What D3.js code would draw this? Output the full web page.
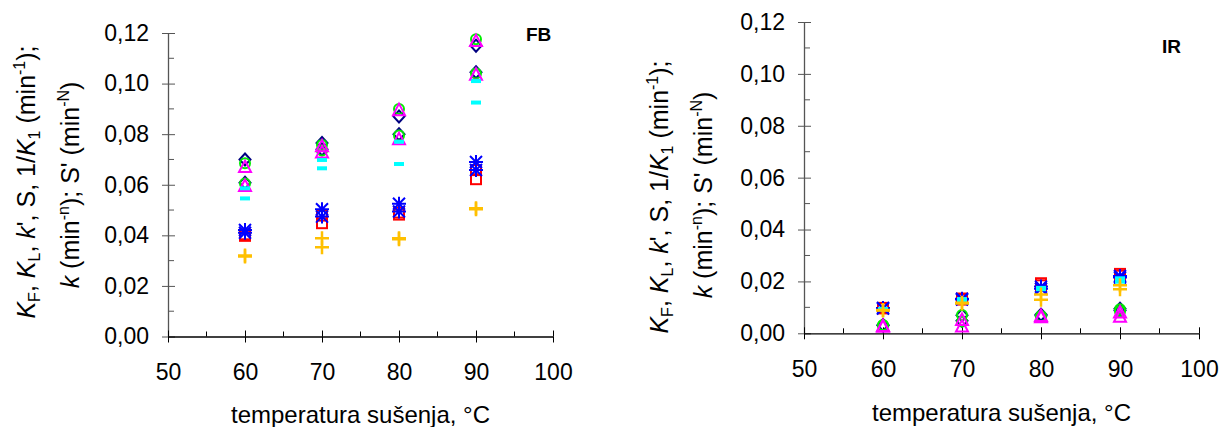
<!DOCTYPE html>
<html><head><meta charset="utf-8">
<script src="https://cdn.jsdelivr.net/npm/d3@7"></script>
<style>body{margin:0;background:#fff}text{font-family:"Liberation Sans",Arial,sans-serif}</style>
</head><body><svg id="c" width="1221" height="427"></svg>
<script>
const temps = [60, 70, 80, 90];
const xTicks = [50, 60, 70, 80, 90, 100];
const yTicks = [0, 0.02, 0.04, 0.06, 0.08, 0.10, 0.12];
const yTickLabels = ["0,00", "0,02", "0,04", "0,06", "0,08", "0,10", "0,12"];

// FB panel series
const fbDiamond1 = [0.0700, 0.0765, 0.0870, 0.1150];
const fbDiamond2 = [0.0608, 0.0740, 0.0800, 0.1045];
const fbCircle1 = [0.0685, 0.0757, 0.0900, 0.1175];
const fbCircle2 = [0.0605, 0.0735, 0.0795, 0.1040];
const fbTriangle1 = [0.0670, 0.0752, 0.0895, 0.1168];
const fbTriangle2 = [0.0595, 0.0728, 0.0780, 0.1035];
const fbSquare1 = [0.0404, 0.0478, 0.0490, 0.0658];
const fbSquare2 = [0.0398, 0.0448, 0.0482, 0.0622];
const fbStar1 = [0.0421, 0.0503, 0.0525, 0.0690];
const fbStar2 = [0.0410, 0.0474, 0.0494, 0.0658];
const fbDash1 = [0.0586, 0.0698, 0.0770, 0.1010];
const fbDash2 = [0.0546, 0.0665, 0.0682, 0.0925];
const fbPlus1 = [0.0320, 0.0388, 0.0388, 0.0507];
const fbPlus2 = [0.0316, 0.0353, 0.0385, 0.0503];

// IR panel series
const irDiamond1 = [0.0032, 0.0070, 0.0072, 0.0095];
const irDiamond2 = [0.0030, 0.0048, 0.0068, 0.0088];
const irCircle1 = [0.0032, 0.0071, 0.0067, 0.0093];
const irCircle2 = [0.0030, 0.0045, 0.0065, 0.0085];
const irTriangle1 = [0.0028, 0.0051, 0.0067, 0.0080];
const irTriangle2 = [0.0025, 0.0026, 0.0062, 0.0064];
const irSquare1 = [0.0098, 0.0134, 0.0193, 0.0229];
const irSquare2 = [0.0096, 0.0130, 0.0185, 0.0222];
const irStar1 = [0.0098, 0.0133, 0.0180, 0.0221];
const irStar2 = [0.0095, 0.0130, 0.0172, 0.0215];
const irDash1 = [0.0094, 0.0132, 0.0175, 0.0212];
const irDash2 = [0.0092, 0.0128, 0.0170, 0.0199];
const irPlus1 = [0.0090, 0.0118, 0.0150, 0.0185];
const irPlus2 = [0.0088, 0.0115, 0.0129, 0.0170];

const svg = d3.select("#c");

const markers = {
  diamond: (g, c) => g.append("path").attr("d", "M0,-6L5.5,0L0,6L-5.5,0Z").attr("fill", "none").attr("stroke", c).attr("stroke-width", 2),
  circle: (g, c) => g.append("circle").attr("r", 5).attr("fill", "none").attr("stroke", c).attr("stroke-width", 2),
  triangle: (g, c) => g.append("path").attr("d", "M0,-6.5L6,5L-6,5Z").attr("fill", "none").attr("stroke", c).attr("stroke-width", 2),
  square: (g, c) => g.append("rect").attr("x", -5).attr("y", -5).attr("width", 10).attr("height", 10).attr("fill", "none").attr("stroke", c).attr("stroke-width", 2),
  star: (g, c) => g.append("path").attr("d", "M0,-7L0,7M-6,-6L6,6M-6,6L6,-6M-7,0L7,0").attr("stroke", c).attr("stroke-width", 2),
  dash: (g, c) => g.append("rect").attr("x", -5).attr("y", -2).attr("width", 10).attr("height", 4).attr("fill", c),
  plus: (g, c) => g.append("path").attr("d", "M0,-7L0,7M-7,0L7,0").attr("stroke", c).attr("stroke-width", 2.5)
};

function addParts(parent, parts, subSize) {
  let shift = 0;
  parts.forEach(([s, k]) => {
    const ts = parent.append("tspan").text(s);
    let target = 0;
    if (k === "i") ts.attr("font-style", "italic");
    if (k === "sub") { ts.attr("font-size", subSize); target = 5; }
    if (k === "sup") { ts.attr("font-size", subSize); target = -10; }
    ts.attr("dy", target - shift);
    shift = target;
  });
}

function panel(opt) {
  const x = d3.scaleLinear().domain([50, 100]).range([opt.x0, opt.x1]);
  const y = d3.scaleLinear().domain([0, 0.12]).range([opt.y0, opt.y1]);
  const g = svg.append("g");

  g.selectAll(".mx").data([55, 65, 75, 85, 95]).enter().append("line")
    .attr("x1", d => x(d)).attr("x2", d => x(d)).attr("y1", opt.y0).attr("y2", opt.y0 - 5)
    .attr("stroke", "#000").attr("stroke-width", 1);
  g.selectAll(".my").data([0.01, 0.03, 0.05, 0.07, 0.09, 0.11]).enter().append("line")
    .attr("x1", opt.x0).attr("x2", opt.x0 + 6).attr("y1", d => y(d)).attr("y2", d => y(d))
    .attr("stroke", "#555").attr("stroke-width", 1);

  const ya = d3.axisLeft(y).tickValues(yTicks).tickFormat((d, i) => yTickLabels[i]).tickSizeInner(6).tickSizeOuter(0).tickPadding(13);
  const yg = g.append("g").attr("transform", `translate(${opt.x0},0)`).call(ya);
  yg.select(".domain").attr("stroke", "#555").attr("stroke-width", 1.3);
  yg.selectAll(".tick line").attr("stroke", "#555").attr("x2", -6).clone().attr("x2", 7);
  yg.selectAll("text").attr("font-size", 23).attr("fill", "#000");

  const xa = d3.axisBottom(x).tickValues(xTicks).tickSizeInner(6).tickSizeOuter(0).tickPadding(21);
  const xg = g.append("g").attr("transform", `translate(0,${opt.y0})`).call(xa);
  xg.select(".domain").attr("stroke", "#000").attr("stroke-width", 1.3);
  xg.selectAll(".tick line").attr("stroke", "#000").attr("y2", 6).clone().attr("y2", -6);
  xg.selectAll("text").attr("font-size", 23).attr("fill", "#000");

  g.append("text").attr("x", (opt.x0 + opt.x1) / 2).attr("y", opt.titleY).attr("text-anchor", "middle")
    .attr("font-size", 24).text("temperatura sušenja, °C");

  const parts1 = [["K", "i"], ["F", "sub"], [", ", ""], ["K", "i"], ["L", "sub"], [", ", ""], ["k", "i"], ["', S, 1/", ""], ["K", "i"], ["1", "sub"], [" (min", ""], ["-1", "sup"], [");", ""]];
  const parts2 = [["k", "i"], [" (min", ""], ["-n", "sup"], ["); S' (min", ""], ["-N", "sup"], [")", ""]];
  const line1 = svg.append("text").attr("transform", `translate(${opt.labX},${opt.labY}) rotate(-90)`)
    .attr("text-anchor", "middle").attr("font-size", 25);
  addParts(line1, parts1, 16);
  const line2 = svg.append("text").attr("transform", `translate(${opt.labX + 44},${opt.labY2}) rotate(-90)`)
    .attr("text-anchor", "middle").attr("font-size", 25);
  addParts(line2, parts2, 16);

  g.append("text").attr("x", opt.tagX).attr("y", opt.tagY).attr("font-size", 19).attr("font-weight", "bold").text(opt.tag);

  opt.series.forEach(s => {
    s.values.forEach((v, i) => {
      const mg = g.append("g").attr("transform", `translate(${x(temps[i])},${y(v)})`);
      markers[s.marker](mg, s.color);
    });
  });
}

const colors = {diamond: "#000080", circle: "#00ee00", triangle: "#ff00ff", square: "#ff0000", star: "#0000ff", dash: "#00ffff", plus: "#ffc000"};
function mk(list) {
  return list.map(([m, v]) => ({marker: m, color: colors[m], values: v}));
}

panel({
  x0: 168, x1: 553, y0: 336.5, y1: 33, titleY: 423, labX: 35, labY: 182, labY2: 185,
  tag: "FB", tagX: 526, tagY: 41,
  series: mk([["diamond", fbDiamond1], ["diamond", fbDiamond2], ["circle", fbCircle1], ["circle", fbCircle2],
    ["triangle", fbTriangle1], ["triangle", fbTriangle2], ["square", fbSquare1], ["square", fbSquare2],
    ["star", fbStar1], ["star", fbStar2], ["dash", fbDash1], ["dash", fbDash2], ["plus", fbPlus1], ["plus", fbPlus2]])
});
panel({
  x0: 804, x1: 1199, y0: 333.3, y1: 22, titleY: 421, labX: 668, labY: 197, labY2: 195,
  tag: "IR", tagX: 1162, tagY: 53,
  series: mk([["diamond", irDiamond1], ["diamond", irDiamond2], ["circle", irCircle1], ["circle", irCircle2],
    ["triangle", irTriangle1], ["triangle", irTriangle2], ["square", irSquare1], ["square", irSquare2],
    ["star", irStar1], ["star", irStar2], ["dash", irDash1], ["dash", irDash2], ["plus", irPlus1], ["plus", irPlus2]])
});
</script></body></html>
